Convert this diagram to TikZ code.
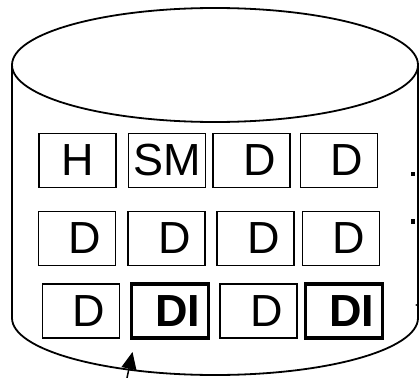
\documentclass[tikz,border=0pt]{standalone}
\usepackage{fontspec}
\setmainfont{Liberation Sans}
\usetikzlibrary{arrows.meta,positioning}
\tikzset{
  blk/.style={draw, line width=1.5pt, minimum width=77pt, minimum height=54pt, inner sep=0pt,
    font=\fontsize{45}{45}\selectfont},
  blkbold/.style={blk, line width=3.5pt, font=\fontsize{45}{45}\selectfont\bfseries},
  ptr/.style={line width=1.5pt, -{Triangle[length=17pt 0 0,width=15pt 0 0]}}
}
\newcommand{\pad}{\kern16pt}

\begin{document}
\begin{tikzpicture}[x=1pt,y=-1pt]
  \useasboundingbox (0,0) rectangle (419,377);

  % Cylinder
  \draw[line width=1.8pt] (215,65) ellipse[x radius=203, y radius=57];
  \draw[line width=1.8pt] (12,65) -- (12,318) arc[start angle=180, end angle=0, x radius=203, y radius=57] -- (418,65);

  % First row
  \node[blk] (h)   at (77.5,160.5) {\raisebox{-3pt}{H}};
  \node[blk] (sm)  at (167,160.5) {\raisebox{-3pt}{SM}};
  \node[blk] (d13) at (251.5,160.5) {\pad D};
  \node[blk] (d14) at (339,160.5) {\pad D};

  % Second row
  \node[blk] (d21) at (77,238.5) {\pad D};
  \node[blk] (d22) at (166.5,238.5) {\pad D};
  \node[blk] (d23) at (255.5,238.5) {\pad D};
  \node[blk] (d24) at (341,238.5) {\pad D};

  % Third row
  \node[blk]     (d31)  at (81,311) {\pad D};
  \node[blkbold] (di32) at (170,311) {\pad DI};
  \node[blk]     (d33)  at (258.5,311) {\pad D};
  \node[blkbold] (di34) at (344,311) {\pad DI};

  % Dots at the right
  \fill (410.5,171.5) rectangle +(4.5,4.5);
  \fill (410.5,219) rectangle +(4.5,4.5);

  % Pointers
  \coordinate (tail) at (124,392);
  \coordinate (tip) at (132.5,352);
  \draw[ptr] (tail) -- (tip);
  \coordinate (rtail) at (445,305);
  \coordinate (rtip) at (415,305);
  \draw[ptr] (rtail) -- (rtip);
\end{tikzpicture}
\end{document}
